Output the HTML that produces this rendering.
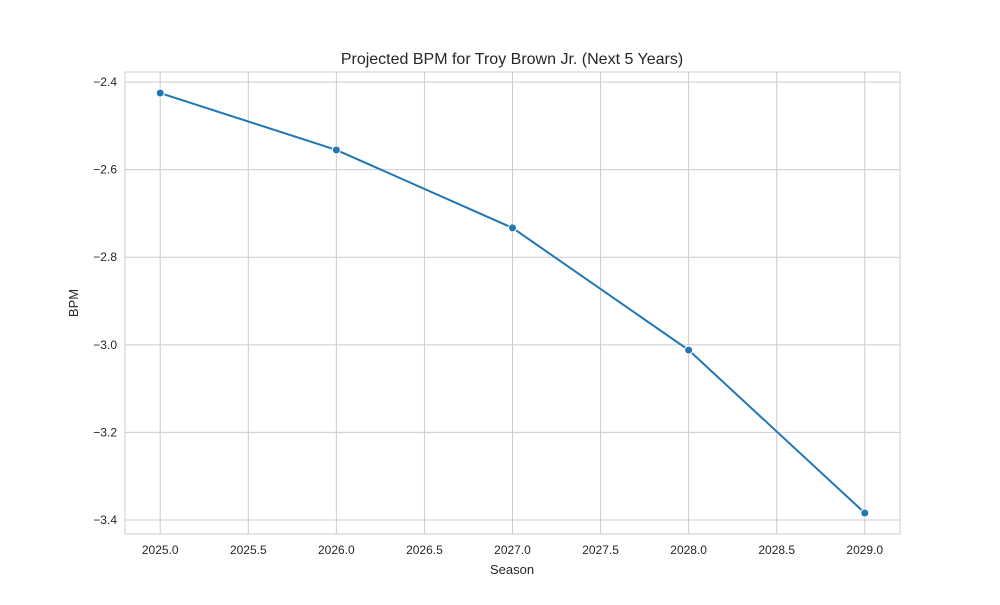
<!DOCTYPE html>
<html><head><meta charset="utf-8"><style>
body{margin:0;background:#fff;}
svg text{font-family:"Liberation Sans",Arial,sans-serif;fill:#262626;}
</style></head><body>
<svg id="chart" width="1000" height="600">
<rect width="1000" height="600" fill="#fff"/>
<g id="grid"></g>
<rect x="125" y="72" width="775" height="462" fill="none" stroke="#ccc" stroke-width="1"/>
<g id="ticks"></g>
<g id="series"></g>
<text x="512" y="64" text-anchor="middle" font-size="16">Projected BPM for Troy Brown Jr. (Next 5 Years)</text>
<text x="512" y="574" text-anchor="middle" font-size="13">Season</text>
<text x="78" y="303" text-anchor="middle" font-size="13" transform="rotate(-90 78 303)">BPM</text>
</svg>
<script>
const seasons=[2025,2026,2027,2028,2029];
const bpm=[-2.425,-2.555,-2.733,-3.012,-3.384];
const xTicks=[2025.0,2025.5,2026.0,2026.5,2027.0,2027.5,2028.0,2028.5,2029.0];
const yTicks=[-2.4,-2.6,-2.8,-3.0,-3.2,-3.4];
const L=125,R=900,T=72,B=534;
const xMin=2024.8,xMax=2029.2,yMin=-3.432,yMax=-2.377;
const xs=v=>L+(v-xMin)/(xMax-xMin)*(R-L);
const ys=v=>T+(yMax-v)/(yMax-yMin)*(B-T);
const NS='http://www.w3.org/2000/svg';
const grid=document.getElementById('grid'),ticks=document.getElementById('ticks'),series=document.getElementById('series');
function mk(tag,attrs,parent){const e=document.createElementNS(NS,tag);for(const k in attrs)e.setAttribute(k,attrs[k]);parent.appendChild(e);return e;}
xTicks.forEach(t=>{const x=xs(t);
const g=mk('line',{x1:x,x2:x,y1:T,y2:B,stroke:'#ccc','stroke-width':1},grid);


const l=mk('text',{x:x,y:B+20,'text-anchor':'middle','font-size':12},ticks);l.textContent=t.toFixed(1);


});
yTicks.forEach(t=>{const y=ys(t);
const g=mk('line',{x1:L,x2:R,y1:y,y2:y,stroke:'#ccc','stroke-width':1},grid);


const l=mk('text',{x:L-8,y:y+4,'text-anchor':'end','font-size':12},ticks);l.textContent=t.toFixed(1).replace('-','\u2212');


});
const p=mk('polyline',{points:seasons.map((s,i)=>xs(s)+','+ys(bpm[i])).join(' '),fill:'none',stroke:'#1f77b4','stroke-width':2},series);


seasons.forEach((s,i)=>{const c=mk('circle',{cx:xs(s),cy:ys(bpm[i]),r:4,fill:'#1f77b4',stroke:'#fff','stroke-width':1},series);


});
</script>
</body></html>
